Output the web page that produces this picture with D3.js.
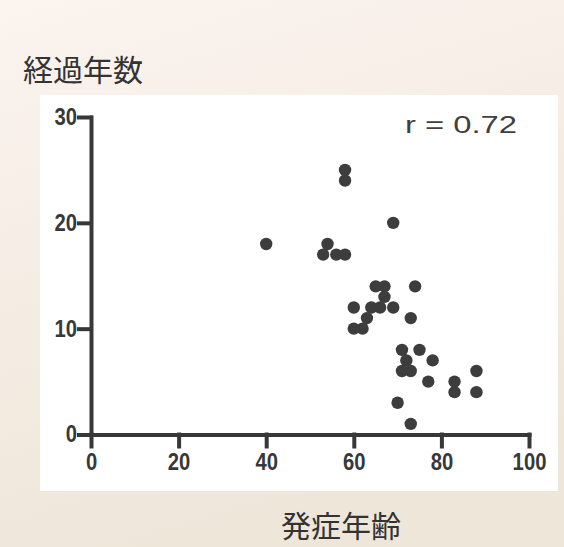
<!DOCTYPE html>
<html>
<head>
<meta charset="utf-8">
<script src="https://cdn.jsdelivr.net/npm/d3@7"></script>
<style>
  body { margin: 0; background: #f3ebe1; }
  svg { display: block; }
</style>
</head>
<body>
<div id="chart"></div>
<script>
// onset age (x) and years elapsed (y)
var onsetAge = [58, 58, 40, 54, 53, 56, 58, 69, 65, 67, 74, 67, 60, 64, 66, 69,
                63, 73, 60, 62, 71, 75, 72, 78, 71, 73, 88, 77, 83, 83, 88, 70, 73];
var yearsElapsed = [25, 24, 18, 18, 17, 17, 17, 20, 14, 14, 14, 13, 12, 12, 12, 12,
                11, 11, 10, 10, 8, 8, 7, 7, 6, 6, 6, 5, 5, 4, 4, 3, 1];
var xTicks = [0, 20, 40, 60, 80, 100];
var yTicks = [0, 10, 20, 30];
var yTitle = "経過年数";
var xTitle = "発症年齢";
var rLabel = "r = 0.72";

function drawChart() {
    var svgWidth = 564;
    var svgHeight = 547;
    var margin = { top: 117, left: 91 };
    var width = 529 - margin.left;
    var height = 434.5 - margin.top;
    var ink = "#383838";

    var svg = d3.select("#chart")
        .append("svg")
        .attr("width", svgWidth)
        .attr("height", svgHeight);

    // paper background
    var grad = svg.append("defs").append("linearGradient")
        .attr("id", "paper")
        .attr("x1", "0").attr("y1", "0").attr("x2", "0.3").attr("y2", "1");
    grad.append("stop").attr("offset", "0").attr("stop-color", "#fbf4ef");
    grad.append("stop").attr("offset", "0.5").attr("stop-color", "#f5ede4");
    grad.append("stop").attr("offset", "1").attr("stop-color", "#efe6da");

    svg.append("rect")
        .attr("width", svgWidth).attr("height", svgHeight)
        .attr("fill", "url(#paper)");

    // white panel
    svg.append("rect")
        .attr("x", 40).attr("y", 95)
        .attr("width", 518).attr("height", 396)
        .attr("fill", "#ffffff");

    var chartGroup = svg.append("g")
        .attr("transform", `translate(${margin.left}, ${margin.top})`);

    var xScale = d3.scaleLinear().domain([0, 100]).range([0, width]);
    var yScale = d3.scaleLinear().domain([0, 30]).range([height, 0]);

    var xAxis = d3.axisBottom(xScale).tickValues(xTicks)
        .tickSizeInner(12).tickSizeOuter(0).tickPadding(7);
    var yAxis = d3.axisLeft(yScale).tickValues(yTicks)
        .tickSizeInner(12).tickSizeOuter(0).tickPadding(4);

    var gx = chartGroup.append("g")
        .attr("transform", `translate(0, ${height})`)
        .call(xAxis);
    var gy = chartGroup.append("g").call(yAxis);

    [gx, gy].forEach(function(g) {
        g.selectAll("path, line")
            .style("stroke", ink)
            .style("stroke-width", "4px")
            .style("stroke-linecap", "square");
        g.selectAll("text")
            .style("fill", ink)
            .style("font-family", "'Liberation Sans', Arial, sans-serif")
            .style("font-weight", "bold")
            .style("font-size", "23px")
            .attr("transform", "scale(0.88,1)");
    });

    // points
    var points = onsetAge.map(function(a, i) { return { x: a, y: yearsElapsed[i] }; });
    chartGroup.selectAll("circle")
        .data(points)
        .enter()
        .append("circle")
        .attr("cx", d => xScale(d.x))
        .attr("cy", d => yScale(d.y))
        .attr("r", 6.2)
        .attr("fill", "#3d3d3d");

    // correlation label
    svg.append("text")
        .attr("x", 405)
        .attr("y", 133)
        .attr("textLength", 112)
        .attr("lengthAdjust", "spacingAndGlyphs")
        .attr("fill", "#404040")
        .style("font-family", "'Liberation Sans', Arial, sans-serif")
        .style("font-size", "24px")
        .text(rLabel);

    // axis titles
    svg.append("text")
        .attr("x", 23)
        .attr("y", 81)
        .attr("fill", "#333")
        .style("font-family", "'Noto Sans CJK JP', sans-serif")
        .style("font-size", "30px")
        .text(yTitle);

    svg.append("text")
        .attr("x", 341)
        .attr("y", 537)
        .attr("text-anchor", "middle")
        .attr("fill", "#333")
        .style("font-family", "'Noto Sans CJK JP', sans-serif")
        .style("font-size", "30px")
        .text(xTitle);
}

drawChart();
</script>
</body>
</html>
